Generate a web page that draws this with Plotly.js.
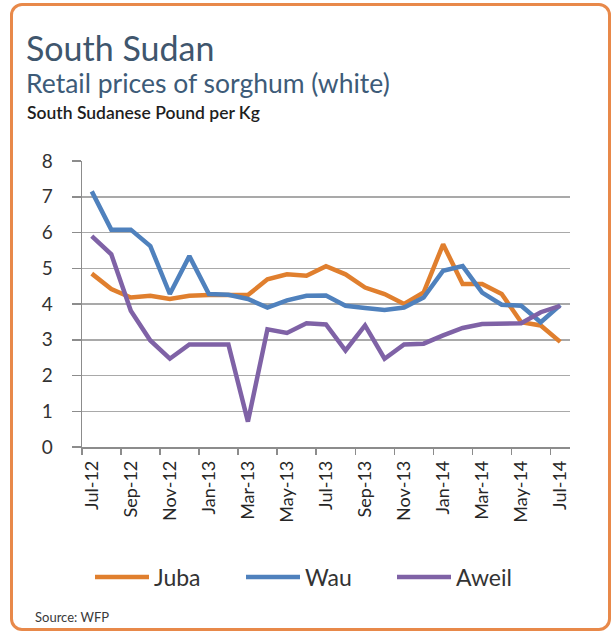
<!DOCTYPE html>
<html>
<head>
<meta charset="utf-8">
<script src="https://cdn.plot.ly/plotly-3.0.1.min.js"></script>
<style>
  html, body { margin: 0; padding: 0; background: #ffffff; }
  #wrap { position: relative; width: 614px; height: 632px; }
  #chart { width: 614px; height: 632px; }
  #frame { position: absolute; left: 10px; top: 3px; width: 595px; height: 622px;
           border: 3px solid #E8894A; border-radius: 12px; pointer-events: none; }
</style>
</head>
<body>
<div id="wrap">
  <div id="chart"></div>
  <div id="frame"></div>
</div>
<script>
// Months Jul-12 .. Jul-14
const months = ["Jul-12","Aug-12","Sep-12","Oct-12","Nov-12","Dec-12","Jan-13","Feb-13","Mar-13","Apr-13","May-13","Jun-13",
                "Jul-13","Aug-13","Sep-13","Oct-13","Nov-13","Dec-13","Jan-14","Feb-14","Mar-14","Apr-14","May-14","Jun-14","Jul-14"];
const juba  = [4.85,4.42,4.18,4.23,4.14,4.23,4.25,4.25,4.25,4.69,4.83,4.79,5.06,4.83,4.46,4.28,4.00,4.32,5.67,4.56,4.56,4.28,3.49,3.40,2.94];
const wau   = [7.15,6.08,6.08,5.62,4.28,5.34,4.28,4.26,4.14,3.90,4.10,4.23,4.24,3.95,3.89,3.83,3.90,4.18,4.93,5.06,4.32,3.98,3.95,3.49,3.97];
const aweil = [5.90,5.39,3.81,2.98,2.47,2.87,2.87,2.87,0.71,3.29,3.19,3.46,3.43,2.70,3.40,2.47,2.87,2.89,3.12,3.33,3.44,3.46,3.46,3.77,3.95];
const seriesNames = ["Juba","Wau","Aweil"];
const seriesColors = ["#E07F2E","#4F81BD","#7F62A6"];

const FONT = "Lato, 'Noto Sans', sans-serif";
const W = 614, H = 632, L = 82, R = 44, T = 161, B = 185;
const pw = W - L - R, ph = H - T - B;
const px = x => (x - L) / pw;
const py = y => (H - B - y) / ph;

const data = [juba, wau, aweil].map((vals, i) => ({
  type: "scatter", mode: "lines", x: months, y: vals, name: seriesNames[i],
  line: { color: seriesColors[i], width: 4.5 }
}));

const layout = {
  width: W, height: H,
  margin: { l: L, r: R, t: T, b: B, pad: 0 },
  paper_bgcolor: "#ffffff", plot_bgcolor: "#ffffff",
  font: { family: FONT, color: "#333333" },
  showlegend: true,
  legend: {
    orientation: "h", x: px(90), xanchor: "left", y: py(577), yanchor: "middle",
    font: { family: FONT, size: 23, color: "#333333" },
    bgcolor: "rgba(0,0,0,0)", entrywidth: 82, itemwidth: 54
  },
  xaxis: {
    type: "category", range: [-0.5, 24.5], dtick: 2, tickson: "boundaries",
    tickangle: -90, showgrid: false, showline: true, linecolor: "#8C8C8C", linewidth: 1.5,
    ticks: "outside", ticklen: 6, tickcolor: "#8C8C8C", tickwidth: 1.5,
    tickfont: { family: FONT, size: 18, color: "#262626" }, ticklabelstandoff: 5,
    zeroline: false, fixedrange: true
  },
  yaxis: {
    range: [0, 8], dtick: 1, showgrid: true, gridcolor: "#A9A9A9", gridwidth: 1.5,
    showline: true, linecolor: "#8C8C8C", linewidth: 1.5,
    ticks: "outside", ticklen: 9, tickcolor: "#8C8C8C", tickwidth: 1.5,
    tickfont: { family: FONT, size: 19, color: "#333333" }, ticklabelstandoff: 15,
    zeroline: false, fixedrange: true
  },
  annotations: [
    { text: "South Sudan", xref: "paper", yref: "paper", x: px(24), y: py(47), xanchor: "left", yanchor: "middle",
      showarrow: false, font: { family: FONT, size: 34, color: "#3F566D" } },
    { text: "Retail prices of sorghum (white)", xref: "paper", yref: "paper", x: px(24), y: py(83), xanchor: "left", yanchor: "middle",
      showarrow: false, font: { family: FONT, size: 26.5, color: "#3D5B78" } },
    { text: "South Sudanese Pound per Kg", xref: "paper", yref: "paper", x: px(25), y: py(113), xanchor: "left", yanchor: "middle",
      showarrow: false, font: { family: FONT, size: 17.5, color: "#1E1E1E", weight: 600 } },
    { text: "Source: WFP", xref: "paper", yref: "paper", x: px(33), y: py(617), xanchor: "left", yanchor: "middle",
      showarrow: false, font: { family: FONT, size: 13, color: "#3A3A3A" } }
  ]
};

Plotly.newPlot("chart", data, layout, { displayModeBar: false, staticPlot: true });
</script>
</body>
</html>
